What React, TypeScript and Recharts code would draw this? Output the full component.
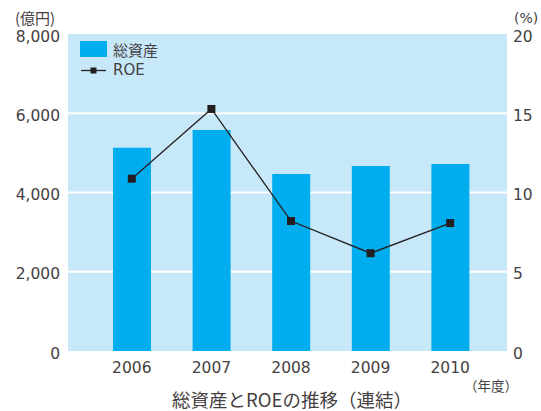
import React from "react";
import {
  ComposedChart,
  Bar,
  Line,
  XAxis,
  YAxis,
  CartesianGrid,
} from "recharts";

const years = ["2006", "2007", "2008", "2009", "2010"];
const totalAssets = [5130, 5580, 4470, 4670, 4720];
const roe = [10.87, 15.27, 8.2, 6.17, 8.07];
const leftTicks = [0, 2000, 4000, 6000, 8000];
const rightTicks = [0, 5, 10, 15, 20];
const gridValues = [2000, 4000, 6000];
const seriesNames = ["総資産", "ROE"];

const data = years.map((y, i) => ({ year: y, assets: totalAssets[i], roe: roe[i] }));

const TEXT = "#454142";
const BAR = "#00aeef";
const BG = "#c7e8f8";
const LINE = "#231f20";
const FONT = "'DejaVu Sans', sans-serif";
const JP = "'Noto Sans CJK JP', sans-serif";
const TS = 15.5;

const SquareDot = (props: any) => {
  const { cx, cy } = props;
  if (cx == null || cy == null) return null;
  return <rect x={cx - 4} y={cy - 4} width={8} height={8} fill={LINE} />;
};

const LegendBox = () => (
  <div
    style={{
      position: "absolute",
      left: 80,
      top: 39,
      fontFamily: JP,
      color: TEXT,
      fontSize: 15,
      lineHeight: "21px",
    }}
  >
    <div style={{ display: "flex", alignItems: "center", height: 21 }}>
      <svg width={33} height={21}>
        <rect x={0} y={2} width={27} height={16} fill={BAR} />
      </svg>
      <span>{seriesNames[0]}</span>
    </div>
    <div style={{ display: "flex", alignItems: "center", height: 21 }}>
      <svg width={33} height={21}>
        <line x1={1} x2={26} y1={10.5} y2={10.5} stroke={LINE} strokeWidth={1.3} />
        <rect x={10.5} y={7.5} width={6} height={6} fill={LINE} />
      </svg>
      <span style={{ fontFamily: FONT, fontSize: 15 }}>{seriesNames[1]}</span>
    </div>
  </div>
);

export default function App() {
  return (
    <div style={{ position: "absolute", left: 0, top: 0, width: 541, height: 411, fontFamily: FONT, overflow: "hidden" }}>
      <ComposedChart
        width={541}
        height={411}
        data={data}
        margin={{ top: 34, right: 0, left: 0, bottom: 30 }}
      >
        <CartesianGrid
          yAxisId="left"
          vertical={false}
          horizontal={true}
          horizontalValues={gridValues}
          stroke="#ffffff"
          strokeWidth={2}
          fill={BG}
          fillOpacity={1}
        />
        <XAxis
          dataKey="year"
          padding={{ left: 24, right: 17 }}
          axisLine={false}
          tickLine={false}
          tickMargin={5}
          height={30}
          tick={{ fill: TEXT, fontSize: TS, fontFamily: FONT }}
        />
        <YAxis
          yAxisId="left"
          width={68}
          domain={[0, 8000]}
          ticks={leftTicks}
          interval={0}
          axisLine={false}
          tickLine={false}
          tickFormatter={(v: number) => v.toLocaleString("en-US")}
          tick={{ fill: TEXT, fontSize: TS, fontFamily: FONT, dy: 2 }}
        />
        <YAxis
          yAxisId="right"
          orientation="right"
          width={34}
          domain={[0, 20]}
          ticks={rightTicks}
          interval={0}
          axisLine={false}
          tickLine={false}
          tickMargin={0}
          tick={{ fill: TEXT, fontSize: TS, fontFamily: FONT, dy: 2 }}
        />
        <Bar
          yAxisId="left"
          dataKey="assets"
          name={seriesNames[0]}
          fill={BAR}
          barSize={38}
          isAnimationActive={false}
        />
        <Line
          yAxisId="right"
          dataKey="roe"
          name={seriesNames[1]}
          stroke={LINE}
          strokeWidth={1.3}
          dot={<SquareDot />}
          activeDot={false}
          isAnimationActive={false}
        />
      </ComposedChart>
      <LegendBox />
      <div
        style={{
          position: "absolute",
          left: 15,
          top: 10,
          fontFamily: JP,
          fontSize: 15,
          lineHeight: "15px",
          color: TEXT,
        }}
      >
        (億円)
      </div>
      <div
        style={{
          position: "absolute",
          left: 514,
          top: 11,
          fontFamily: FONT,
          fontSize: 14,
          lineHeight: "15px",
          color: TEXT,
        }}
      >
        (%)
      </div>
      <div style={{ position: "absolute", left: 464, top: 375, fontFamily: JP, fontSize: 13.5, color: TEXT }}>
        （年度）
      </div>
      <div
        style={{
          position: "absolute",
          left: 0,
          width: 584,
          top: 390,
          textAlign: "center",
          fontFamily: JP,
          fontSize: 18.5,
          color: TEXT,
          lineHeight: "18px",
        }}
      >
        総資産とROEの推移（連結）
      </div>
    </div>
  );
}
